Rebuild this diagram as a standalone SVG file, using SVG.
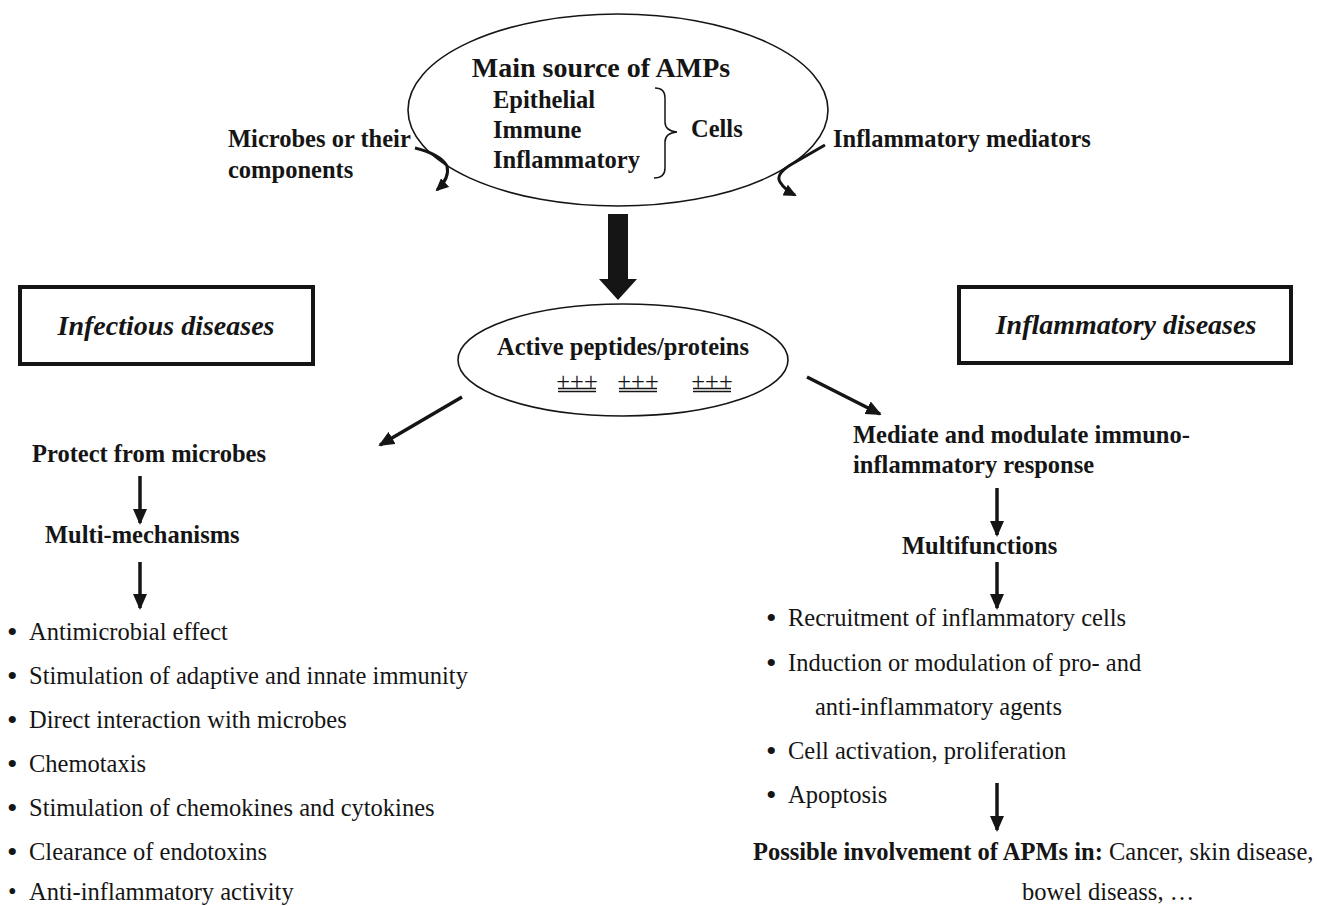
<svg xmlns="http://www.w3.org/2000/svg" width="1317" height="906" viewBox="0 0 1317 906">
<style>
text{font-family:"Liberation Serif","Times New Roman",serif;fill:#151515;font-size:24.5px}
.b{font-weight:bold}
.bi{font-weight:bold;font-style:italic;font-size:28px}
.big{font-weight:bold;font-size:28px}
.bul{font-size:30px}
.ell{fill:none;stroke:#151515;stroke-width:1.6}
.box{fill:none;stroke:#151515;stroke-width:4}
.ln{fill:none;stroke:#151515;stroke-width:3.5}
.cv{fill:none;stroke:#151515;stroke-width:3}
.thin{fill:none;stroke:#151515;stroke-width:1.5}
</style>
<defs>
<marker id="ah" markerUnits="userSpaceOnUse" markerWidth="16" markerHeight="14" refX="14" refY="7" orient="auto">
<path d="M0,0 L16,7 L0,14 z" fill="#151515"/>
</marker>
<marker id="ahs" markerUnits="userSpaceOnUse" markerWidth="13" markerHeight="12" refX="11" refY="6" orient="auto">
<path d="M0,0 L13,6 L0,12 z" fill="#151515"/>
</marker>
</defs>
<rect width="1317" height="906" fill="#fff"/>

<g id="source">
<ellipse class="ell" cx="618" cy="110" rx="210" ry="96"/>
<text class="big" x="601" y="77" text-anchor="middle">Main source of AMPs</text>
<text class="b" x="493" y="108">Epithelial</text>
<text class="b" x="493" y="138">Immune</text>
<text class="b" x="493" y="168">Inflammatory</text>
<path class="thin" d="M655,88 Q665,88 665,98 L665,122 Q665,131 677,132 Q665,133 665,142 L665,168 Q665,178 654,178"/>
<text class="b" x="691" y="137">Cells</text>
</g>

<g id="microbes">
<text class="b" x="228" y="147">Microbes or their</text>
<text class="b" x="228" y="178">components</text>
</g>

<g id="mediators">
<text class="b" x="833" y="147">Inflammatory mediators</text>
</g>

<g id="infectious">
<rect class="box" x="20" y="287" width="293" height="77"/>
<text class="bi" x="166" y="335" text-anchor="middle">Infectious diseases</text>
</g>

<g id="inflammatory">
<rect class="box" x="959" y="287" width="332" height="76"/>
<text class="bi" x="1126" y="334" text-anchor="middle">Inflammatory diseases</text>
</g>

<g id="active">
<ellipse class="ell" cx="623" cy="360" rx="165" ry="56"/>
<text class="b" x="623" y="355" text-anchor="middle">Active peptides/proteins</text>
<text x="577" y="390" text-anchor="middle" font-size="17">+++</text>
<text x="638" y="390" text-anchor="middle" font-size="17">+++</text>
<text x="712" y="390" text-anchor="middle" font-size="17">+++</text>
<path class="thin" d="M558,388.5 H596 M558,391.5 H596 M619,388.5 H657 M619,391.5 H657 M693,388.5 H731 M693,391.5 H731" stroke-width="1.1"/>
</g>

<g id="protect">
<text class="b" x="32" y="462">Protect from microbes</text>
</g>
<g id="multimech">
<text class="b" x="45" y="543">Multi-mechanisms</text>
</g>
<g id="left-list">
<text class="bul" x="7" y="642">•</text><text x="29" y="640">Antimicrobial effect</text>
<text class="bul" x="7" y="686">•</text><text x="29" y="684">Stimulation of adaptive and innate immunity</text>
<text class="bul" x="7" y="730">•</text><text x="29" y="728">Direct interaction with microbes</text>
<text class="bul" x="7" y="774">•</text><text x="29" y="772">Chemotaxis</text>
<text class="bul" x="7" y="818">•</text><text x="29" y="816">Stimulation of chemokines and cytokines</text>
<text class="bul" x="7" y="862">•</text><text x="29" y="860">Clearance of endotoxins</text>
<text x="8" y="900" font-size="26">•</text><text x="29" y="900">Anti-inflammatory activity</text>
</g>

<g id="mediate">
<text class="b" x="853" y="443">Mediate and modulate immuno-</text>
<text class="b" x="853" y="473">inflammatory response</text>
</g>
<g id="multifunctions">
<text class="b" x="902" y="554">Multifunctions</text>
</g>
<g id="right-list">
<text class="bul" x="766" y="628">•</text><text x="788" y="626">Recruitment of inflammatory cells</text>
<text class="bul" x="766" y="673">•</text><text x="788" y="671">Induction or modulation of pro- and</text>
<text x="815" y="715">anti-inflammatory agents</text>
<text class="bul" x="766" y="761">•</text><text x="788" y="759">Cell activation, proliferation</text>
<text class="bul" x="766" y="805">•</text><text x="788" y="803">Apoptosis</text>
</g>
<g id="involvement">
<text x="753" y="860"><tspan class="b">Possible involvement of APMs in:</tspan> Cancer, skin disease,</text>
<text x="1022" y="900">bowel diseass, …</text>
</g>

<g id="connectors">
<polygon points="608,214 628,214 628,279 637,279 618,300 599,279 608,279" fill="#151515"/>
<path class="cv" d="M415,148 Q440,154 447,166 Q450,178 437,190" marker-end="url(#ahs)"/>
<path class="cv" d="M825,145 L792,164 Q775,174 780,182 Q785,190 795,195" marker-end="url(#ahs)"/>
<line class="ln" x1="462" y1="397" x2="380" y2="445" marker-end="url(#ah)"/>
<line class="ln" x1="807" y1="377" x2="880" y2="414" marker-end="url(#ah)"/>
<line class="ln" x1="140" y1="476" x2="140" y2="523" marker-end="url(#ah)"/>
<line class="ln" x1="140" y1="562" x2="140" y2="608" marker-end="url(#ah)"/>
<line class="ln" x1="997" y1="488" x2="997" y2="535" marker-end="url(#ah)"/>
<line class="ln" x1="997" y1="562" x2="997" y2="608" marker-end="url(#ah)"/>
<line class="ln" x1="997" y1="783" x2="997" y2="830" marker-end="url(#ah)"/>
</g>
</svg>
